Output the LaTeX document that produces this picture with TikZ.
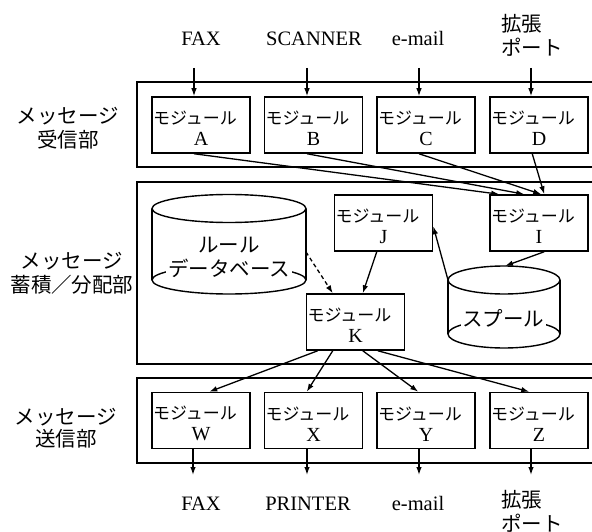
\documentclass[tikz,border=0pt]{standalone}
\usepackage{fontspec}
\setmainfont{Liberation Serif}
\newfontfamily\jp{Noto Sans CJK JP}
\usetikzlibrary{arrows.meta,calc}
\newcommand{\modtxt}[1]{\vbox{\baselineskip=21pt\lineskiplimit=-10pt
  \hbox to 96pt{\rule{0pt}{20pt}\jp\fontsize{17pt}{21pt}\selectfont モジュール\hfil}%
  \hbox to 96pt{\hfil\fontsize{20pt}{21pt}\selectfont #1\hfil}}}
\begin{document}
\begin{tikzpicture}[x=1pt,y=-1pt,
  box/.style={draw,line width=1.6pt},
  cyl/.style={draw,line width=1.4pt},
  mod/.style={draw,line width=1.5pt,minimum width=98pt,minimum height=56pt,inner sep=0pt,font=\fontsize{17.5pt}{21pt}\selectfont},
  arr/.style={-{Latex[length=8pt,width=5.5pt]},line width=1.3pt},
  lab/.style={inner sep=0pt,font=\fontsize{20.5pt}{24pt}\selectfont},
  jlab/.style={inner sep=0pt,font=\jp\fontsize{20.5pt}{24pt}\selectfont}]
\clip (0,0) rectangle (592,532);
\fill[white] (0,0) rectangle (592,532);
% outer boxes
\draw[box] (137,82) rectangle (600,167);
\draw[box] (137,182) rectangle (600,364);
\draw[box] (137,378) rectangle (600,463);
% left labels
\node[jlab,align=center] (recv) at (68,128.5) {メッセージ\\受信部};
\node[jlab,align=center,font=\jp\fontsize{20.5pt}{24pt}\selectfont] (store) at (72,273) {メッセージ\\蓄積／分配部};
\node[jlab,align=center,font=\jp\fontsize{20.5pt}{22pt}\selectfont] (send) at (66,428) {メッセージ\\送信部};
% modules
\node[mod] (A) at (201,125) {\modtxt{A}};
\node[mod] (B) at (313.5,125) {\modtxt{B}};
\node[mod] (C) at (426,125) {\modtxt{C}};
\node[mod] (D) at (539,125) {\modtxt{D}};
\node[mod] (I) at (539,223) {\modtxt{I}};
\node[mod] (J) at (383.5,223) {\modtxt{J}};
\node[mod] (K) at (355.5,322) {\modtxt{K}};
\node[mod] (W) at (201,420.5) {\modtxt{W}};
\node[mod] (X) at (313.5,420.5) {\modtxt{X}};
\node[mod] (Y) at (426,420.5) {\modtxt{Y}};
\node[mod] (Z) at (539,420.5) {\modtxt{Z}};
% rule database cylinder
\draw[cyl] (152,208.5) -- (152,280) (306,208.5) -- (306,280);
\draw[cyl] (229,208.5) ellipse [x radius=77pt,y radius=14pt];
\draw[cyl] (229,280) ellipse [x radius=77pt,y radius=14pt];
\node[jlab,align=center,fill=white,inner sep=2pt] (db) at (229,257) {ルール\\データベース};
\coordinate (dbR) at (306,252);
% spool cylinder
\draw[cyl] (448,280) -- (448,334) (560,280) -- (560,334);
\draw[cyl] (504,280) ellipse [x radius=56pt,y radius=14pt];
\draw[cyl] (504,334) ellipse [x radius=56pt,y radius=14pt];
\node[jlab,fill=white,inner sep=1.5pt] (spool) at (503,318) {スプール};
\coordinate (spoolTop) at (505,266);
\coordinate (spoolL) at (448,280);
% top labels
\node[lab,anchor=base] (tFAX) at (201,46) {FAX};
\node[lab,anchor=base] (tSCAN) at (314,46) {SCANNER};
\node[lab,anchor=base] (tMAIL) at (418,46) {e-mail};
\node[jlab,align=left] (tEXT) at (532,35) {拡張\\ポート};
% bottom labels
\node[lab,anchor=base] (bFAX) at (201,510) {FAX};
\node[lab,anchor=base] (bPRN) at (308,510) {PRINTER};
\node[lab,anchor=base] (bMAIL) at (418,510) {e-mail};
\node[jlab,align=left] (bEXT) at (532,511) {拡張\\ポート};
% input arrows
\coordinate (inA) at (194,68);
\coordinate (inB) at (307,68);
\coordinate (inC) at (419,68);
\coordinate (inD) at (531,68);
\draw[arr] (inA) -- (inA |- A.north);
\draw[arr] (inB) -- (inB |- B.north);
\draw[arr] (inC) -- (inC |- C.north);
\draw[arr] (inD) -- (inD |- D.north);
% to module I
\draw[arr] (inA |- A.south) -- ($(I.north west)+(10,0)$);
\draw[arr] (inB |- B.south) -- ($(I.north west)+(35,0)$);
\draw[arr] (inC |- C.south) -- ($(I.north west)+(52,0)$);
\draw[arr] ($(D.south west)+(43,0)$) -- ($(I.north west)+(55,0)$);
% middle
\draw[arr] ($(I.south west)+(55,0)$) -- (spoolTop);
\draw[arr] (spoolL) -- ($(J.north east)+(0,32)$);
\draw[arr] ($(J.south west)+(43,0)$) -- ($(K.north west)+(57,0)$);
\draw[arr,dash pattern=on 4pt off 3pt] (dbR) -- ($(K.north west)+(27,0)$);
% K to outputs
\draw[arr] ($(K.south west)+(12,0)$) -- ($(W.north west)+(58,0)$);
\draw[arr] ($(K.south west)+(27,0)$) -- ($(X.north west)+(43,0)$);
\draw[arr] ($(K.south west)+(57,0)$) -- ($(Y.north west)+(42,0)$);
\draw[arr] ($(K.south west)+(72,0)$) -- ($(Z.north west)+(40,0)$);
% output arrows
\coordinate (oW) at (193,475);
\coordinate (oX) at (307,475);
\coordinate (oY) at (419,475);
\coordinate (oZ) at (531,475);
\draw[arr] (oW |- W.south) -- (oW);
\draw[arr] (oX |- X.south) -- (oX);
\draw[arr] (oY |- Y.south) -- (oY);
\draw[arr] (oZ |- Z.south) -- (oZ);
\end{tikzpicture}
\end{document}
